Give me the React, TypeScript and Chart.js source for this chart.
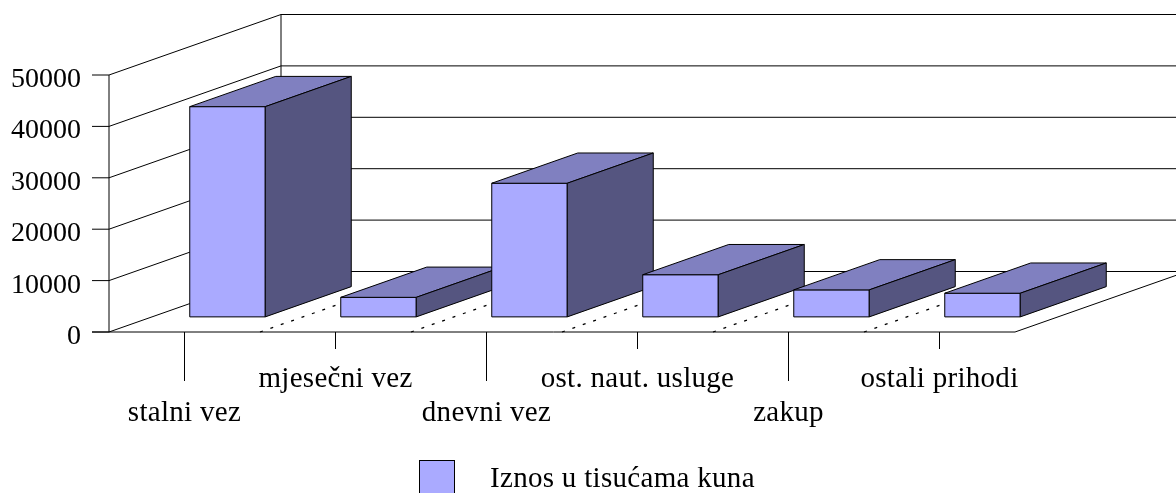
import React, { useEffect, useRef } from "react";
import { Chart, registerables } from "chart.js";

Chart.register(...registerables);

const categories = ["stalni vez", "mjesečni vez", "dnevni vez", "ost. naut. usluge", "zakup", "ostali prihodi"];
const values = [40900, 3800, 26000, 8200, 5250, 4600];
const yTicks = [0, 10000, 20000, 30000, 40000, 50000];
const seriesLabel = "Iznos u tisućama kuna";

const FRONT = "#AAAAFF";
const TOP = "#8080C0";
const SIDE = "#555580";
const DX = 172;
const DY = -60.5;
const FONT_NUM = '28px "Liberation Serif", "Times New Roman", serif';
const FONT_TXT = '29px "Liberation Serif", "Times New Roman", serif';

function line(ctx: CanvasRenderingContext2D, x1: number, y1: number, x2: number, y2: number) {
  ctx.beginPath();
  ctx.moveTo(x1, y1);
  ctx.lineTo(x2, y2);
  ctx.stroke();
}

const threeD = {
  id: "threeD",
  beforeDatasetsDraw(chart: any) {
    const { ctx, chartArea: a, scales } = chart;
    const x = scales.x;
    const y = scales.y;
    const y0 = y.getPixelForValue(0);
    const yMax = y.getPixelForValue(yTicks[yTicks.length - 1]);
    ctx.save();
    ctx.strokeStyle = "#000";
    ctx.lineWidth = 1;
    yTicks.forEach((v) => {
      const py = y.getPixelForValue(v);
      line(ctx, a.left - 17, py, a.left, py);
      line(ctx, a.left, py, a.left + DX, py + DY);
      line(ctx, a.left + DX, py + DY, a.right + DX, py + DY);
    });
    line(ctx, a.left, yMax, a.left, y0);
    line(ctx, a.left + DX, yMax + DY, a.left + DX, y0 + DY);
    line(ctx, a.left - 17, y0, a.right, y0);
    line(ctx, a.right, y0, a.right + DX, y0 + DY);
    ctx.setLineDash([3, 8]);
    ctx.lineWidth = 1.3;
    for (let k = 1; k < categories.length; k++) {
      const bx = (x.getPixelForValue(k - 1) + x.getPixelForValue(k)) / 2;
      line(ctx, bx, y0, bx + DX, y0 + DY);
    }
    ctx.setLineDash([]);
    ctx.lineWidth = 1;

    const meta = chart.getDatasetMeta(0);
    const f0 = 0.25;
    const depth = 0.5;
    const ox = DX * f0;
    const oy = DY * f0;
    const dx = DX * depth;
    const dy = DY * depth;
    meta.data.forEach((el: any) => {
      const L = el.x - el.width / 2 + ox;
      const R = el.x + el.width / 2 + ox;
      const T = el.y + oy;
      const B = el.base + oy;
      ctx.beginPath();
      ctx.rect(L, T, R - L, B - T);
      ctx.fillStyle = FRONT;
      ctx.fill();
      ctx.stroke();
      ctx.beginPath();
      ctx.moveTo(L, T);
      ctx.lineTo(R, T);
      ctx.lineTo(R + dx, T + dy);
      ctx.lineTo(L + dx, T + dy);
      ctx.closePath();
      ctx.fillStyle = TOP;
      ctx.fill();
      ctx.stroke();
      ctx.beginPath();
      ctx.moveTo(R, T);
      ctx.lineTo(R + dx, T + dy);
      ctx.lineTo(R + dx, B + dy);
      ctx.lineTo(R, B);
      ctx.closePath();
      ctx.fillStyle = SIDE;
      ctx.fill();
      ctx.stroke();
    });
    ctx.restore();
    return false;
  },
  afterDraw(chart: any) {
    const { ctx, chartArea: a, scales } = chart;
    const x = scales.x;
    const y = scales.y;
    const y0 = y.getPixelForValue(0);
    ctx.save();
    ctx.fillStyle = "#000";
    ctx.strokeStyle = "#000";
    ctx.lineWidth = 1;
    ctx.textBaseline = "alphabetic";
    ctx.font = FONT_NUM;
    ctx.textAlign = "right";
    yTicks.forEach((v) => {
      const py = y.getPixelForValue(v);
      ctx.fillText(String(v), a.left - 28, py + 12);
    });
    ctx.font = FONT_TXT;
    (ctx as any).letterSpacing = "0.3px";
    ctx.textAlign = "center";
    categories.forEach((c, i) => {
      const px = x.getPixelForValue(i);
      const low = i % 2 === 0;
      line(ctx, px, y0, px, y0 + (low ? 49 : 17));
      ctx.fillText(c, px, low ? 421 : 387);
    });
    ctx.fillStyle = FRONT;
    ctx.fillRect(419.5, 460.5, 35, 35);
    ctx.strokeRect(419.5, 460.5, 35, 35);
    ctx.fillStyle = "#000";
    ctx.textAlign = "left";
    ctx.fillText(chart.data.datasets[0].label, 490, 487);
    ctx.restore();
  },
};

export default function App() {
  const ref = useRef<HTMLCanvasElement | null>(null);
  useEffect(() => {
    if (!ref.current) return;
    const chart = new Chart(ref.current, {
      type: "bar",
      data: {
        labels: categories,
        datasets: [
          {
            label: seriesLabel,
            data: values,
            backgroundColor: FRONT,
            borderColor: "#000",
            borderWidth: 1,
            categoryPercentage: 1,
            barPercentage: 0.5,
          },
        ],
      },
      options: {
        responsive: false,
        maintainAspectRatio: false,
        devicePixelRatio: 1,
        animation: false,
        layout: { padding: { left: 109, right: 161, top: 75, bottom: 161 } },
        plugins: { legend: { display: false }, tooltip: { enabled: false } },
        scales: {
          x: { type: "category", display: false, offset: true },
          y: { type: "linear", min: 0, max: 50000, display: false },
        },
      },
      plugins: [threeD],
    });
    return () => chart.destroy();
  }, []);
  return (
    <div style={{ position: "fixed", left: 0, top: 0, width: 1176, height: 493, background: "#fff" }}>
      <canvas ref={ref} width={1176} height={493} style={{ width: 1176, height: 493, display: "block" }} />
    </div>
  );
}
